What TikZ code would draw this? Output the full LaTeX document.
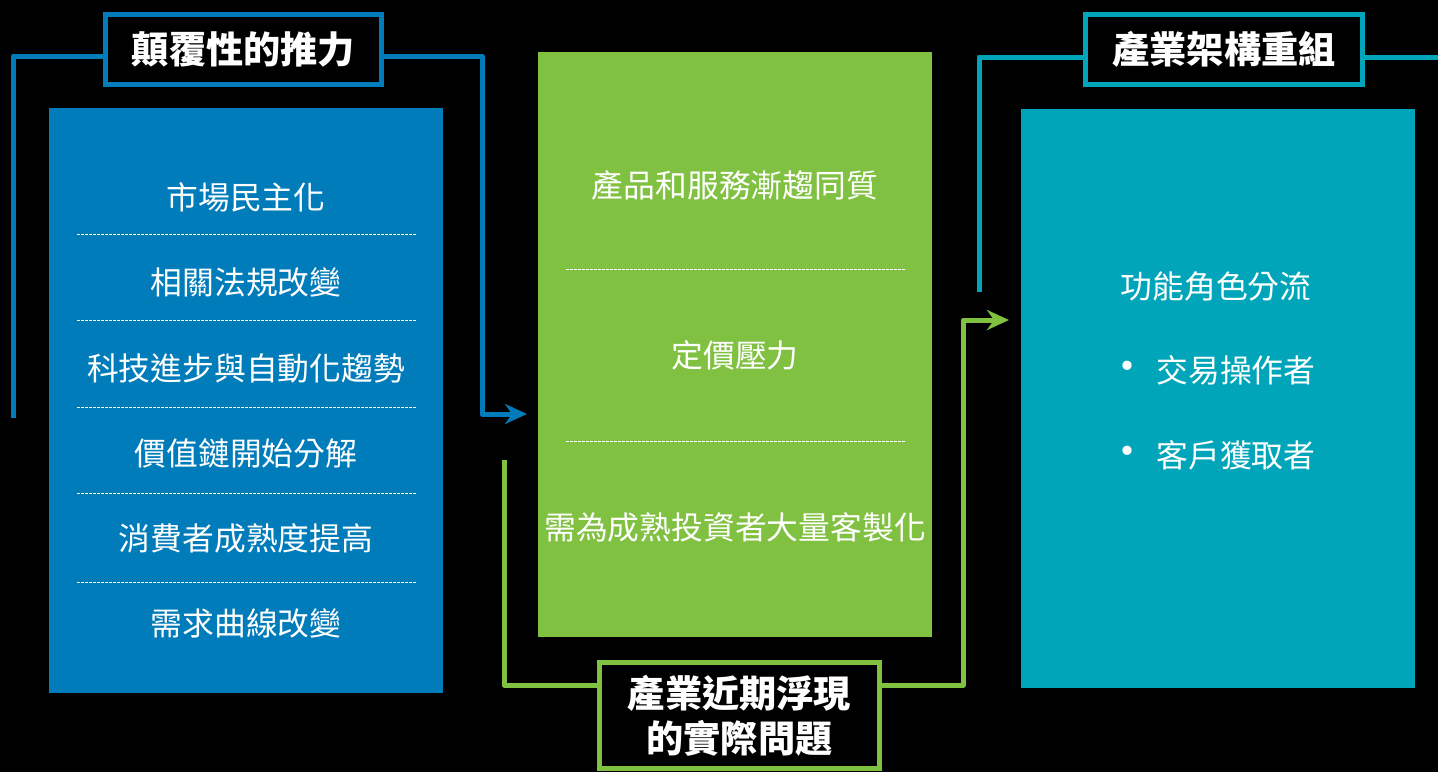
\documentclass[tikz,border=0pt]{standalone}
\usepackage{fontspec}
\newfontfamily\cjk{Noto Sans CJK TC}
\usetikzlibrary{arrows.meta}
\definecolor{cblue}{RGB}{0,124,186}
\definecolor{cgreen}{RGB}{128,193,66}
\definecolor{cteal}{RGB}{0,165,185}
\begin{document}
\begin{tikzpicture}[x=0.5pt,y=-0.5pt,
  panel/.style={anchor=north west,inner sep=0pt,outer sep=0pt},
  item/.style={text=white,font=\cjk\fontsize{15.9}{18}\selectfont,inner sep=0pt},
  dot/.style={text=white,font=\cjk\fontsize{22}{22}\selectfont,inner sep=0pt},
  head/.style={draw=#1,line width=2.5pt,fill=black,text=white,inner sep=0pt,
    font=\cjk\bfseries\fontsize{18.6}{22.5}\selectfont,align=center},
  conn/.style={draw=#1,line width=2.5pt,line join=round},
  sep/.style={white,line width=0.4pt,dash pattern=on 1.3pt off 0.7pt},
  tip/.style={-{Stealth[length=11pt,width=10pt,inset=3.5pt]}}]
\useasboundingbox (0,0) rectangle (1438,772);
\fill[black] (0,0) rectangle (1438,772);
% panels
\node[panel,fill=cblue,minimum width=197pt,minimum height=292.5pt] (pb) at (49,108) {};
\node[panel,fill=cgreen,minimum width=197pt,minimum height=292.5pt] (pg) at (538,52) {};
\node[panel,fill=cteal,minimum width=197pt,minimum height=289.5pt] (pt) at (1021,109) {};
% headings
\node[head=cblue,minimum width=138pt,minimum height=35pt] (h1) at (243.5,49.5) {顛覆性的推力};
\node[head=cgreen,minimum width=140pt,minimum height=53pt] (h2) at (739.5,715.5) {產業近期浮現\\的實際問題};
\node[head=cteal,minimum width=138.5pt,minimum height=35pt] (h3) at (1224,49.5) {產業架構重組};
% connector coordinates
\coordinate (b1) at (13.5,56); \coordinate (b2) at (13.5,418);
\coordinate (b3) at (482,56); \coordinate (b4) at (482,414); \coordinate (b5) at (527,414);
\coordinate (g1) at (504,460); \coordinate (g2) at (504,685);
\coordinate (g3) at (963,685); \coordinate (g4) at (963,320); \coordinate (g5) at (1009,320);
\coordinate (t1) at (979,57); \coordinate (t2) at (979,292); \coordinate (t3) at (1438,57);
% connectors
\draw[conn=cblue] (h1.west |- b1) -- (b1) -- (b2);
\draw[conn=cblue,tip] (h1.east |- b3) -- (b3) -- (b4) -- (b5);
\draw[conn=cgreen] (g1) -- (g2) -- (h2.west |- g2);
\draw[conn=cgreen,tip] (h2.east |- g3) -- (g3) -- (g4) -- (g5);
\draw[conn=cteal] (h3.west |- t1) -- (t1) -- (t2);
\draw[conn=cteal] (h3.east |- t3) -- (t3);
% blue items
\node[item] (b-i1) at (246,197) {市場民主化};
\node[item] (b-i2) at (246,282) {相關法規改變};
\node[item] (b-i3) at (246,368) {科技進步與自動化趨勢};
\node[item] (b-i4) at (246,453) {價值鏈開始分解};
\node[item] (b-i5) at (246,538) {消費者成熟度提高};
\node[item] (b-i6) at (246,623) {需求曲線改變};
\foreach \y in {234,320,407,493,582} \draw[sep] (77,\y) -- (416,\y);
% green items
\node[item] (g-i1) at (735,185) {產品和服務漸趨同質};
\node[item] (g-i2) at (735,355) {定價壓力};
\node[item] (g-i3) at (735,527) {需為成熟投資者大量客製化};
\foreach \y in {269,441} \draw[sep] (566,\y) -- (906,\y);
% teal items
\node[item] (t-i1) at (1216,286) {功能角色分流};
\node[dot] (t-d1) at (1127,372) {•};
\node[item,anchor=west] (t-i2) at (1156,370) {交易操作者};
\node[dot] (t-d2) at (1127,457) {•};
\node[item,anchor=west] (t-i3) at (1156,455) {客戶獲取者};
\end{tikzpicture}
\end{document}
